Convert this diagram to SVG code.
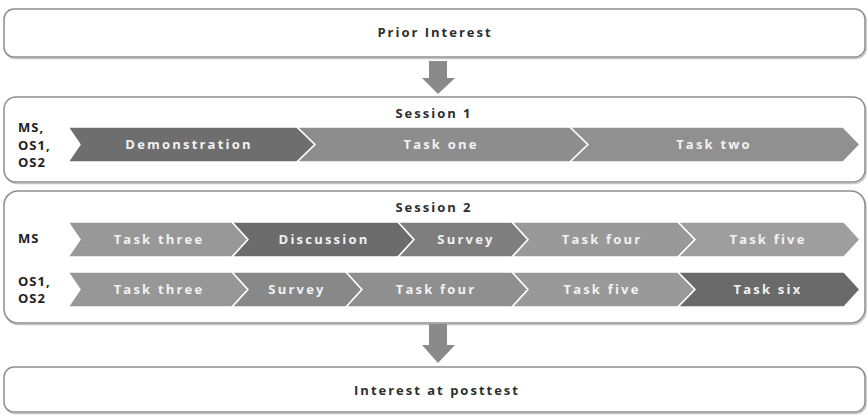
<svg xmlns="http://www.w3.org/2000/svg" width="867" height="415" viewBox="0 0 867 415">
<style>
.box{fill:#ffffff;stroke:#8e8e8e;stroke-width:1.5}
.shadow{fill:none;stroke:#c4c4c4;stroke-width:1.5}
.hdr{font-family:"Open Sans","DejaVu Sans",sans-serif;font-weight:700;font-size:13px;fill:#2e2e2e;letter-spacing:2px;text-anchor:middle}
.lbl{font-family:"Open Sans","DejaVu Sans",sans-serif;font-weight:700;font-size:13px;fill:#1e1e1e;letter-spacing:1px}
.chv{stroke:#ffffff;stroke-width:1.5;stroke-linejoin:miter}
.ct{font-family:"Open Sans","DejaVu Sans",sans-serif;font-weight:700;font-size:13px;fill:#f2f2f2;letter-spacing:2.2px;text-anchor:middle}
.arr{fill:#8a8a8a}
</style>
<g id="prior">
<rect class="shadow" x="5" y="10.5" width="861" height="48" rx="10"/>
<rect class="box" x="4" y="9" width="861" height="48" rx="10"/>
<text class="hdr" x="435" y="37">Prior Interest</text>
</g>
<g id="session1">
<rect class="shadow" x="5" y="98.5" width="861" height="85" rx="12"/>
<rect class="box" x="4" y="97" width="861" height="85" rx="12"/>
<text class="hdr" x="434" y="118">Session 1</text>
<text class="lbl" x="18" y="132">MS,</text>
<text class="lbl" x="18" y="150">OS1,</text>
<text class="lbl" x="18" y="167">OS2</text>
<g id="s1-demo"><polygon class="chv" fill="#6e6e6e" points="68,127 297,127 315,144.5 297,162 68,162 80,144.5"/><text class="ct" x="189" y="149">Demonstration</text></g>
<g id="s1-task1"><polygon class="chv" fill="#8d8d8d" points="297,127 570,127 588,144.5 570,162 297,162 315,144.5"/><text class="ct" x="441" y="149">Task one</text></g>
<g id="s1-task2"><polygon class="chv" fill="#909090" points="570,127 843,127 860,144.5 843,162 570,162 588,144.5"/><text class="ct" x="714" y="149">Task two</text></g>
</g>
<g id="session2">
<rect class="shadow" x="5" y="192.5" width="861" height="132" rx="14"/>
<rect class="box" x="4" y="191" width="861" height="132" rx="14"/>
<text class="hdr" x="434" y="212">Session 2</text>
<text class="lbl" x="18" y="243">MS</text>
<text class="lbl" x="18" y="286">OS1,</text>
<text class="lbl" x="18" y="303">OS2</text>
<g id="ms-task3"><polygon class="chv" fill="#989898" points="68,222 232,222 248,239.5 232,257 68,257 80,239.5"/><text class="ct" x="159" y="244">Task three</text></g>
<g id="ms-discussion"><polygon class="chv" fill="#6c6c6c" points="232,222 398,222 414,239.5 398,257 232,257 248,239.5"/><text class="ct" x="324" y="244">Discussion</text></g>
<g id="ms-survey"><polygon class="chv" fill="#7e7e7e" points="398,222 512,222 528,239.5 512,257 398,257 414,239.5"/><text class="ct" x="466" y="244">Survey</text></g>
<g id="ms-task4"><polygon class="chv" fill="#999999" points="512,222 678,222 695,239.5 678,257 512,257 528,239.5"/><text class="ct" x="602" y="244">Task four</text></g>
<g id="ms-task5"><polygon class="chv" fill="#9e9e9e" points="678,222 844,222 860,239.5 844,257 678,257 695,239.5"/><text class="ct" x="768" y="244">Task five</text></g>
<g id="os-task3"><polygon class="chv" fill="#979797" points="68,272 232,272 248,289.5 232,307 68,307 80,289.5"/><text class="ct" x="159" y="294">Task three</text></g>
<g id="os-survey"><polygon class="chv" fill="#888888" points="232,272 346,272 362,289.5 346,307 232,307 248,289.5"/><text class="ct" x="297" y="294">Survey</text></g>
<g id="os-task4"><polygon class="chv" fill="#8f8f8f" points="346,272 512,272 528,289.5 512,307 346,307 362,289.5"/><text class="ct" x="436" y="294">Task four</text></g>
<g id="os-task5"><polygon class="chv" fill="#999999" points="512,272 678,272 695,289.5 678,307 512,307 528,289.5"/><text class="ct" x="602" y="294">Task five</text></g>
<g id="os-task6"><polygon class="chv" fill="#6a6a6a" points="678,272 844,272 860,289.5 844,307 678,307 695,289.5"/><text class="ct" x="768" y="294">Task six</text></g>
</g>
<g id="posttest">
<rect class="shadow" x="5" y="368.5" width="861" height="45" rx="10"/>
<rect class="box" x="4" y="367" width="861" height="45" rx="10"/>
<text class="hdr" x="437" y="395">Interest at posttest</text>
</g>
<g id="connectors">
<polygon class="arr" points="429,61 447,61 447,78 455,78 438,94 422,78 429,78"/>
<polygon class="arr" points="429,324 447,324 447,345 455,345 438,363 422,345 429,345"/>
</g>
</svg>
